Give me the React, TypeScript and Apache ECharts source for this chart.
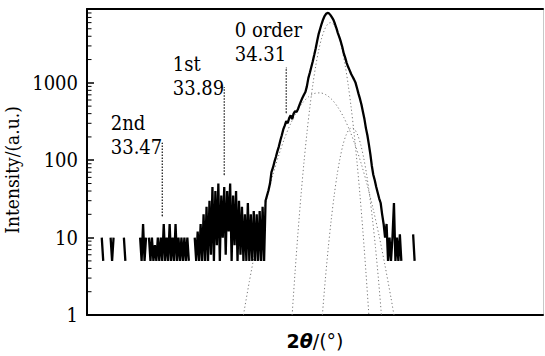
import React, { useEffect, useRef } from "react";
import * as echarts from "echarts";

// Measured XRD intensity, 2θ from 33.00 in steps of 0.01 (null = zero counts)
const thetaStart = 33.0;
const thetaStep = 0.01;
const intensity: (number | null)[] = [
  null, null, null, null, null, null, 10, 5, null, null,
  null, null, 10, 5, 10, null, null, null, null, null,
  null, 10, 5, null, null, null, null, null, null, null,
  null, null, 10, 5, 15, 5, 10, null, 10, 5,
  10, 5, 8, 5, 10, 5, 10, 5, 15, 5,
  10, 5, 15, 5, 10, 5, 15, 5, 10, 5,
  10, 5, 10, 5, 10, 5, null, null, null, 10,
  5, 12, 5, 15, 5, 20, 5, 25, 5, 30,
  6, 45, 5, 40, 8, 50, 5, 35, 10, 45,
  6, 40, 12, 50, 5, 35, 8, 40, 5, 30,
  6, 25, 5, 20, 5, 28, 5, 20, 5, 22,
  5, 20, 5, 22, 5, 25, 5, 30, 35, 41,
  50, 70, 80, 95, 110, 130, 150, 180, 210, 250,
  280, 320, 300, 350, 380, 340, 400, 430, 420, 460,
  520, 580, 640, 700, 760, 900, 1150, 1350, 1600, 1900,
  2300, 2800, 3500, 4300, 5000, 5800, 6600, 7300, 7800, 8000,
  7900, 7500, 7000, 6500, 5800, 5100, 4400, 3900, 3400, 2900,
  2400, 2100, 1800, 1600, 1450, 1300, 1200, 1100, 1000, 850,
  720, 620, 520, 420, 340, 260, 210, 160, 120, 85,
  65, 55, 45, 38, 32, 28, 20, 15, 10, 15,
  5, 10, 5, 10, 28, 5, 10, 5, 11, 5,
  null, null, null, null, null, null, null, 11, 5, null,
  null,
];

// Fitted components
const peakATheta = [
  34.35, 34.37, 34.39, 34.41, 34.43, 34.45, 34.47, 34.49, 34.51, 34.53,
  34.55, 34.57, 34.59, 34.61, 34.63, 34.65, 34.67, 34.69, 34.71, 34.73,
  34.75, 34.77, 34.79, 34.81, 34.83, 34.85, 34.87,
];
const peakAValue = [
  1, 3.6, 11.8, 35, 93, 222, 481, 940, 1656, 2630,
  3776, 4877, 5700, 6000, 5700, 4877, 3776, 2630, 1656, 940,
  481, 222, 93, 35, 11.8, 3.6, 1,
];
const peakBTheta = [
  34.02, 34.06, 34.1, 34.14, 34.18, 34.22, 34.26, 34.3, 34.34, 34.38,
  34.42, 34.46, 34.5, 34.54, 34.58, 34.62, 34.66, 34.7, 34.74, 34.78,
  34.82, 34.86, 34.9, 34.94, 34.98, 35.02, 35.04,
];
const peakBValue = [
  1, 2.7, 6.8, 15.6, 33, 65, 117, 195, 297, 420,
  549, 658, 728, 742, 699, 607, 484, 357, 243, 152,
  88, 47, 23, 10.4, 4.3, 1.66, 1,
];
const peakCTheta = [
  34.555, 34.575, 34.595, 34.615, 34.635, 34.655, 34.675, 34.695, 34.715, 34.735,
  34.755, 34.775, 34.795, 34.815, 34.835, 34.855, 34.875, 34.895, 34.915, 34.935,
  34.955,
];
const peakCValue = [
  1, 2.9, 7.4, 17, 35, 65, 107, 159, 210, 248,
  262, 248, 210, 159, 107, 65, 35, 17, 7.4, 2.9,
  1,
];

// Satellite order markers
const orderNames = ["2nd", "1st", "0 order"];
const orderTheta = [33.47, 33.89, 34.31];
const markerTop = [167, 870, 1560];
const markerBottom = [19, 65, 410];

// Log-axis minor ticks
const minorTickValues = [
  2, 3, 4, 5, 6, 7, 8, 9,
  20, 30, 40, 50, 60, 70, 80, 90,
  200, 300, 400, 500, 600, 700, 800, 900,
  2000, 3000, 4000, 5000, 6000, 7000, 8000, 9000,
];

const yAxisName = "Intensity/(a.u.)";

const X_MIN = 32.96;
const X_MAX = 36.05;
const Y_MIN = 1;
const Y_MAX = 9000;

const labelOffsets: [number, number][] = [
  [-46, -8],
  [-46, -12],
  [-46, -26],
];

const serifC = "DejaVu Serif Condensed";
const sans = "DejaVu Sans";

export default function App() {
  const ref = useRef<HTMLDivElement>(null);

  useEffect(() => {
    if (!ref.current) return;
    const chart = echarts.init(ref.current, undefined, { renderer: "svg" });

    const measured = intensity.map((v, i) => [
      Number((thetaStart + i * thetaStep).toFixed(3)),
      v === null ? "-" : v,
    ]);
    const pairs = (xs: number[], ys: number[]) => xs.map((x, i) => [x, ys[i]]);

    const compStyle = {
      type: "line",
      smooth: 0.3,
      showSymbol: false,
      z: 2,
      silent: true,
      lineStyle: { color: "#777", width: 1, type: [1.2, 2.5] },
    };

    const markerSeries = orderTheta.map((t, k) => ({
      type: "line",
      z: 4,
      silent: true,
      symbol: "circle",
      symbolSize: 1,
      showSymbol: true,
      itemStyle: { color: "#222" },
      lineStyle: { color: "#111", width: 1.2, type: [1.5, 1.5] },
      data: [
        [t, markerBottom[k]],
        {
          value: [t, markerTop[k]],
          label: {
            show: true,
            position: "left",
            align: "left",
            verticalAlign: "middle",
            offset: labelOffsets[k],
            formatter: `${orderNames[k]}\n${t.toFixed(2)}`,
            fontFamily: serifC,
            fontSize: 20,
            lineHeight: 24,
            color: "#000",
          },
        },
      ],
    }));

    const option: any = {
      animation: false,
      backgroundColor: "#fff",
      grid: { left: 87, right: 2, top: 9, bottom: 41, containLabel: false, outerBoundsMode: "none" },
      xAxis: [
        {
          type: "value",
          min: X_MIN,
          max: X_MAX,
          position: "bottom",
          name: "{b|2}{i|θ}{n|/(°)}",
          nameLocation: "middle",
          nameGap: 16,
          nameTextStyle: {
            rich: {
              b: { fontFamily: sans, fontSize: 19, fontWeight: "bold", color: "#000" },
              i: { fontFamily: sans, fontSize: 19, fontWeight: "bold", fontStyle: "italic", color: "#000" },
              n: { fontFamily: sans, fontSize: 19, color: "#000" },
            },
          },
          axisLine: { show: true, onZero: false, lineStyle: { color: "#000", width: 2 } },
          axisTick: { show: false },
          axisLabel: { show: false },
          splitLine: { show: false },
        },
        {
          type: "value",
          min: X_MIN,
          max: X_MAX,
          position: "top",
          axisLine: { show: true, onZero: false, lineStyle: { color: "#000", width: 2 } },
          axisTick: { show: false },
          axisLabel: { show: false },
          splitLine: { show: false },
        },
      ],
      yAxis: [
        {
          type: "log",
          logBase: 10,
          min: Y_MIN,
          max: Y_MAX,
          position: "left",
          name: yAxisName,
          nameLocation: "middle",
          nameGap: 51,
          nameRotate: 90,
          nameTextStyle: { fontFamily: serifC, fontSize: 19, color: "#000", padding: [0, 16, 0, 0] },
          axisLine: { show: true, onZero: false, lineStyle: { color: "#000", width: 2 } },
          axisTick: { show: true, inside: true, length: 7, lineStyle: { color: "#000", width: 1.5 } },
          minorTick: { show: false },
          axisLabel: {
            margin: 9,
            fontFamily: serifC,
            fontSize: 20,
            color: "#000",
            formatter: (v: number) => {
              const l = Math.log10(v);
              return Math.abs(l - Math.round(l)) < 1e-6 ? String(Math.round(v)) : "";
            },
          },
          splitLine: { show: false },
        },
        {
          type: "log",
          logBase: 10,
          min: Y_MIN,
          max: Y_MAX,
          position: "right",
          axisLine: { show: true, onZero: false, lineStyle: { color: "#c8c8c8", width: 1 } },
          axisTick: { show: false },
          axisLabel: { show: false },
          splitLine: { show: false },
        },
      ],
      series: [
        { ...compStyle, name: "peak B", data: pairs(peakBTheta, peakBValue) },
        { ...compStyle, name: "peak A", data: pairs(peakATheta, peakAValue) },
        { ...compStyle, name: "peak C", data: pairs(peakCTheta, peakCValue) },
        {
          type: "line",
          name: "measured",
          z: 3,
          silent: true,
          showSymbol: false,
          connectNulls: false,
          lineStyle: { color: "#000", width: 2.3 },
          data: measured,
        },
        ...markerSeries,
        {
          type: "custom",
          name: "minor ticks",
          silent: true,
          z: 5,
          data: minorTickValues.map((v) => [X_MIN, v]),
          encode: { x: 0, y: 1 },
          renderItem: (params: any, api: any) => {
            const p = api.coord([api.value(0), api.value(1)]);
            return {
              type: "line",
              shape: { x1: p[0], y1: p[1], x2: p[0] + 4.5, y2: p[1] },
              style: { stroke: "#000", lineWidth: 1 },
            };
          },
        },
      ],
    };
    chart.setOption(option);
    return () => chart.dispose();
  }, []);

  return (
    <div
      ref={ref}
      style={{ position: "fixed", left: 0, top: 0, width: 545, height: 356, background: "#fff" }}
    />
  );
}
